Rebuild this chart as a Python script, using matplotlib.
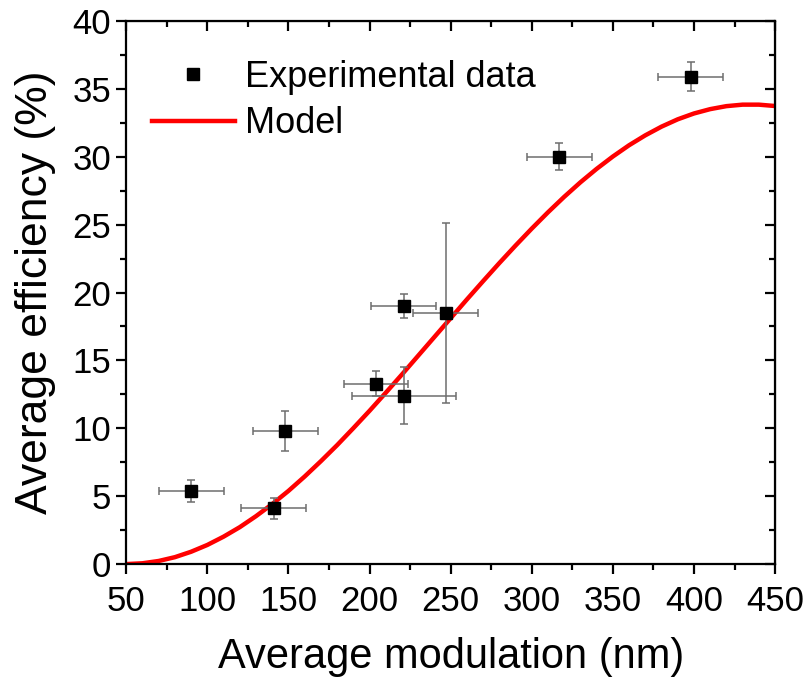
import matplotlib.pyplot as plt
from matplotlib.ticker import MultipleLocator

plt.rcParams['font.family'] = ['Liberation Sans', 'DejaVu Sans']

# experimental points
mod_nm = [90, 141, 148, 204, 221, 221, 247, 317, 398]
eff_pct = [5.4, 4.1, 9.8, 13.3, 12.4, 19.0, 18.5, 30.0, 35.9]
mod_err = [20, 20, 20, 19.5, 32, 20, 20, 20, 20]
eff_err = [0.8, 0.8, 1.5, 0.9, 2.1, 0.9, 6.65, 1.0, 1.05]

# model curve, sampled every 10 nm
model_x = [50, 60, 70, 80, 90, 100, 110, 120, 130, 140, 150, 160, 170, 180,
           190, 200, 210, 220, 230, 240, 250, 260, 270, 280, 290, 300, 310,
           320, 330, 340, 350, 360, 370, 380, 390, 400, 410, 420, 430, 440, 450]
model_y = [0.0, 0.06, 0.23, 0.51, 0.91, 1.41, 2.02, 2.72, 3.53, 4.42, 5.39,
           6.45, 7.58, 8.76, 10.01, 11.29, 12.62, 13.97, 15.35, 16.73, 18.11,
           19.49, 20.84, 22.17, 23.46, 24.71, 25.91, 27.05, 28.12, 29.11,
           30.02, 30.85, 31.58, 32.22, 32.76, 33.19, 33.51, 33.73, 33.84,
           33.84, 33.74]

fig = plt.figure(figsize=(8.04, 6.78), dpi=100)
ax = fig.add_axes([0.157, 0.168, 0.807, 0.801])

ax.plot(model_x, model_y, color='#ff0000', lw=3.2, label='Model', zorder=2)
ax.errorbar(mod_nm, eff_pct, xerr=mod_err, yerr=eff_err, fmt='none',
            ecolor='#6e6e6e', elinewidth=1.1, capsize=3, capthick=1.1, zorder=3)
ax.plot(mod_nm, eff_pct, 's', color='black', ms=8.5, ls='none',
        label='Experimental data', zorder=4)

ax.set_xlim(50, 450)
ax.set_ylim(0, 40)
ax.xaxis.set_major_locator(MultipleLocator(50))
ax.xaxis.set_minor_locator(MultipleLocator(25))
ax.yaxis.set_major_locator(MultipleLocator(5))
ax.yaxis.set_minor_locator(MultipleLocator(2.5))

for s in ax.spines.values():
    s.set_linewidth(1.6)
ax.tick_params(which='major', direction='out', length=7, width=1.6,
               labelsize=25, pad=4)
ax.tick_params(axis='x', which='major', pad=8)
ax.tick_params(which='minor', direction='out', length=4, width=1.6)

# mirrored ticks on top and right, pointing in
top = ax.secondary_xaxis('top')
top.xaxis.set_major_locator(MultipleLocator(50))
top.xaxis.set_minor_locator(MultipleLocator(25))
top.tick_params(which='major', direction='in', length=7, width=1.6, labeltop=False)
top.tick_params(which='minor', direction='in', length=4, width=1.6)
right = ax.secondary_yaxis('right')
right.yaxis.set_major_locator(MultipleLocator(5))
right.yaxis.set_minor_locator(MultipleLocator(2.5))
right.tick_params(which='major', direction='in', length=7, width=1.6, labelright=False)
right.tick_params(which='minor', direction='in', length=4, width=1.6)

ax.set_xlabel('Average modulation (nm)', fontsize=30, labelpad=14)
ax.set_ylabel('Average efficiency (%)', fontsize=32, labelpad=12)

handles, labels = ax.get_legend_handles_labels()
ax.legend(handles[::-1], labels[::-1], loc='upper left',
          bbox_to_anchor=(0.0, 0.975), frameon=False, fontsize=26,
          handlelength=2.3, handletextpad=0.3, labelspacing=0.32,
          borderaxespad=0.3)

fig.savefig('out.png', dpi=100, facecolor='white')
